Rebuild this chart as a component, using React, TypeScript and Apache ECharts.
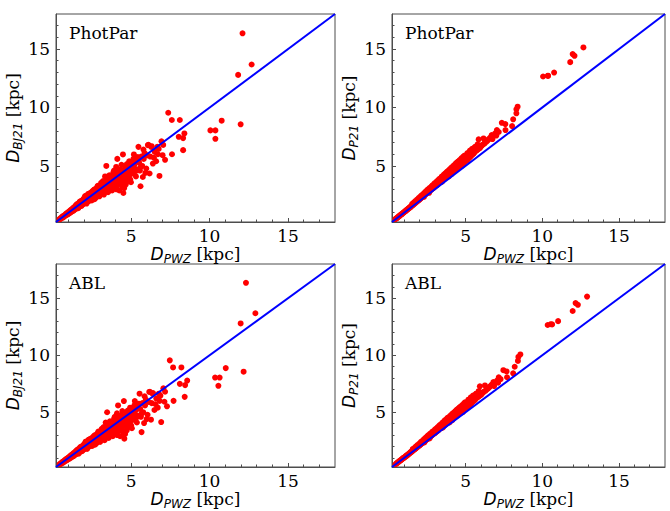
import React, { useEffect, useRef } from "react";
import * as echarts from "echarts";

// ---- data: one entry per star, same index in every array ----
const pwzPhotPar = [
  0.42, 0.47, 0.51, 0.55, 0.6, 0.64, 0.68, 0.72, 0.77, 0.8, 0.85, 0.89, 0.93, 0.97, 1.0,
  1.04, 1.08, 1.11, 1.15, 1.19, 1.23, 1.26, 1.3, 1.34, 1.38, 1.41, 1.45, 1.49, 1.53, 1.56, 1.6, 1.64, 1.67, 1.71, 1.75, 1.78, 1.82, 1.86, 1.9, 1.93, 1.97, 2.0,
  2.04, 2.07, 2.11, 2.14, 2.18, 2.21, 2.25, 2.28, 2.32, 2.35, 2.39, 2.42, 2.46, 2.49, 2.53, 2.56, 2.6, 2.63, 2.67, 2.7, 2.74, 2.77, 2.81, 2.84, 2.88, 2.91, 2.95, 2.98,
  3.02, 3.06, 3.1, 3.13, 3.17, 3.21, 3.24, 3.28, 3.32, 3.35, 3.39, 3.41, 3.43, 3.47, 3.5, 3.54, 3.58, 3.61, 3.65, 3.69, 3.72, 3.76, 3.8, 3.83, 3.87, 3.91, 3.94, 3.98,
  4.02, 4.04, 4.06, 4.09, 4.11, 4.13, 4.17, 4.2, 4.24, 4.28, 4.31, 4.35, 4.39, 4.43, 4.46, 4.47, 4.5, 4.54, 4.57, 4.61, 4.65, 4.68, 4.72, 4.76, 4.8, 4.83, 4.87, 4.91, 4.95, 4.98,
  2.16, 2.44, 2.72, 2.93, 3.15, 3.37, 3.56, 3.74, 3.93, 4.15, 4.33, 4.52, 4.7, 4.89, 5.08, 2.58, 3.05, 3.48, 3.97, 4.42,
  5.02, 5.06, 5.1, 5.14, 5.17, 5.21, 5.25, 5.3, 5.34, 5.4, 5.46, 5.5, 5.55, 5.59, 5.64, 5.7, 5.74, 5.8, 5.85, 5.9, 5.96, 6.02, 6.06, 6.1, 6.17, 6.22, 6.27, 6.3, 6.38, 6.45, 6.5, 6.59, 6.66, 6.7, 6.8,
  6.93, 7.0, 7.04, 7.16, 7.36, 7.59, 7.6, 8.03, 8.1, 8.31, 8.31, 8.39, 6.75,
  10.05, 10.37, 10.37, 10.77, 11.82, 11.98, 12.1, 12.68,
  1.52, 1.62, 1.72, 1.83, 1.95, 2.06, 2.15, 2.26, 2.37, 2.48, 2.55, 2.66, 2.79, 2.86, 2.97, 3.08, 3.16, 3.26, 3.33, 3.44, 3.52, 3.6, 3.7, 3.78, 3.86,
  3.96, 4.05, 4.12, 4.22, 4.3, 4.38, 4.48, 4.55, 4.63, 4.74, 4.85, 4.93, 5.12, 5.28, 5.42, 5.6, 5.78, 3.2, 2.62, 3.9, 4.4, 4.08, 3.46, 4.75, 2.28,
];

const pwzAbl = [
  0.43, 0.48, 0.52, 0.56, 0.61, 0.65, 0.69, 0.73, 0.78, 0.81, 0.86, 0.9, 0.94, 0.98, 1.02,
  1.06, 1.1, 1.13, 1.17, 1.21, 1.25, 1.28, 1.32, 1.36, 1.4, 1.43, 1.47, 1.51, 1.55, 1.58, 1.63, 1.67, 1.7, 1.74, 1.78, 1.81, 1.85, 1.89, 1.93, 1.96, 2.0, 2.03,
  2.07, 2.1, 2.14, 2.17, 2.21, 2.24, 2.28, 2.31, 2.35, 2.38, 2.42, 2.46, 2.5, 2.53, 2.57, 2.6, 2.64, 2.67, 2.71, 2.74, 2.78, 2.81, 2.85, 2.88, 2.92, 2.95, 2.99, 3.02,
  3.06, 3.1, 3.14, 3.17, 3.21, 3.25, 3.28, 3.32, 3.36, 3.39, 3.43, 3.46, 3.48, 3.52, 3.55, 3.59, 3.63, 3.66, 3.7, 3.74, 3.77, 3.81, 3.85, 3.88, 3.92, 3.96, 3.99, 4.03,
  4.07, 4.09, 4.11, 4.14, 4.16, 4.18, 4.22, 4.25, 4.29, 4.33, 4.37, 4.41, 4.45, 4.49, 4.52, 4.53, 4.56, 4.6, 4.63, 4.67, 4.71, 4.74, 4.78, 4.82, 4.86, 4.89, 4.93, 4.97, 5.01, 5.04,
  2.19, 2.47, 2.75, 2.97, 3.19, 3.41, 3.6, 3.78, 3.98, 4.2, 4.38, 4.57, 4.75, 4.94, 5.13, 2.61, 3.09, 3.52, 4.02, 4.47,
  5.07, 5.12, 5.16, 5.2, 5.23, 5.27, 5.31, 5.36, 5.4, 5.46, 5.53, 5.57, 5.62, 5.66, 5.71, 5.77, 5.82, 5.88, 5.93, 5.98, 6.04, 6.1, 6.15, 6.19, 6.26, 6.31, 6.36, 6.39, 6.48, 6.55, 6.6, 6.69, 6.76, 6.81, 6.91,
  7.05, 7.12, 7.16, 7.28, 7.46, 7.67, 7.7, 8.1, 8.2, 8.44, 8.41, 8.57, 6.86,
  10.35, 10.64, 10.56, 11.03, 11.98, 12.17, 12.32, 12.92,
  1.55, 1.65, 1.75, 1.86, 1.98, 2.09, 2.18, 2.29, 2.4, 2.51, 2.58, 2.69, 2.82, 2.9, 3.01, 3.12, 3.2, 3.3, 3.37, 3.48, 3.56, 3.64, 3.74, 3.82, 3.91,
  4.01, 4.1, 4.17, 4.27, 4.35, 4.43, 4.54, 4.61, 4.69, 4.8, 4.91, 4.99, 5.18, 5.34, 5.48, 5.67, 5.85, 3.24, 2.65, 3.95, 4.45, 4.13, 3.5, 4.81, 2.31,
];

const dBJ21 = [
  0.45, 0.44, 0.55, 0.52, 0.66, 0.58, 0.72, 0.66, 0.82, 0.74, 0.92, 0.8, 0.98, 0.88, 1.06,
  0.94, 1.16, 1.0, 1.25, 1.08, 1.3, 1.12, 1.42, 1.2, 1.48, 1.28, 1.6, 1.35, 1.62, 1.4, 1.78, 1.48, 1.82, 1.55, 1.92, 1.6, 2.02, 1.66, 2.08, 1.72, 2.2, 1.8,
  2.3, 1.85, 2.05, 2.45, 1.9, 2.2, 2.58, 1.98, 2.3, 2.05, 2.7, 2.45, 2.12, 2.55, 2.85, 2.22, 2.65, 2.35, 3.0, 2.5, 2.28, 2.8, 3.15, 2.45, 2.9, 2.6, 3.3, 2.7,
  3.05, 2.6, 3.4, 2.85, 3.2, 2.75, 3.6, 3.0, 3.35, 2.9, 3.75, 5.0, 3.15, 3.5, 3.0, 3.85, 3.3, 3.6, 3.1, 4.0, 3.45, 3.75, 3.2, 4.15, 3.55, 3.9, 3.35, 4.3,
  3.65, 4.91, 3.0, 4.05, 5.6, 3.45, 4.4, 3.8, 2.9, 4.2, 4.7, 3.55, 4.0, 3.2, 4.55, 5.98, 2.68, 3.8, 4.3, 4.85, 3.4, 4.1, 5.15, 3.7, 4.5, 3.95, 5.4, 4.25, 4.75, 3.6,
  2.1, 2.38, 2.62, 2.85, 3.05, 3.3, 3.45, 3.62, 3.8, 4.05, 4.2, 4.4, 4.55, 4.7, 4.95, 2.45, 2.88, 3.38, 3.85, 4.3,
  5.1, 4.4, 4.35, 5.6, 5.98, 4.8, 5.2, 4.1, 5.45, 4.7, 6.63, 5.3, 4.6, 3.26, 5.8, 5.0, 4.05, 5.6, 6.1, 4.4, 4.78, 5.9, 6.78, 6.8, 4.35, 5.8, 6.63, 6.69, 5.2, 5.7, 6.2, 5.4, 6.63, 6.0, 4.14,
  7.1, 5.92, 6.8, 5.52, 9.55, 8.93, 6.0, 7.49, 8.93, 7.38, 6.35, 7.78, 6.45,
  8.04, 8.04, 7.32, 8.87, 12.79, 8.56, 16.35, 13.68,
  1.7, 1.38, 1.95, 1.58, 1.95, 2.42, 1.78, 2.3, 2.28, 2.05, 2.62, 2.15, 2.62, 3.3, 2.4, 3.55, 3.0, 2.55, 4.1, 3.25, 2.75, 4.2, 3.55, 2.9, 4.45,
  3.65, 3.25, 4.7, 4.05, 3.4, 5.1, 4.2, 3.1, 4.6, 4.35, 5.0, 3.85, 5.4, 4.55, 5.75, 4.9, 6.4, 3.7, 2.95, 4.6, 4.45, 4.25, 3.45, 4.8, 2.6,
];

const dP21 = [
  0.44, 0.5, 0.53, 0.58, 0.62, 0.68, 0.71, 0.77, 0.8, 0.85, 0.88, 0.95, 0.97, 1.03, 1.05,
  1.1, 1.12, 1.19, 1.2, 1.27, 1.29, 1.35, 1.36, 1.44, 1.45, 1.52, 1.52, 1.6, 1.62, 1.68, 1.69, 1.76, 1.78, 1.84, 1.86, 1.92, 1.94, 2.01, 2.02, 2.09, 2.1, 2.16,
  2.18, 2.25, 2.26, 2.3, 2.36, 2.38, 2.42, 2.48, 2.5, 2.55, 2.58, 2.62, 2.66, 2.7, 2.72, 2.78, 2.8, 2.86, 2.88, 2.94, 2.98, 3.0, 3.04, 3.1, 3.12, 3.18, 3.2, 3.26,
  3.27, 3.34, 3.35, 3.4, 3.44, 3.5, 3.52, 3.58, 3.6, 3.66, 3.68, 3.72, 3.74, 3.76, 3.82, 3.84, 3.9, 3.92, 3.98, 4.0, 4.06, 4.08, 4.14, 4.16, 4.22, 4.24, 4.3, 4.32,
  4.38, 4.4, 4.42, 4.44, 4.48, 4.5, 4.52, 4.58, 4.62, 4.64, 4.7, 4.72, 4.78, 4.82, 4.84, 4.88, 4.9, 4.94, 4.98, 5.0, 5.06, 5.08, 5.14, 5.16, 5.22, 5.26, 5.28, 5.34, 5.38, 5.42,
  2.34, 2.62, 2.92, 3.14, 3.38, 3.62, 3.82, 4.02, 4.22, 4.46, 4.66, 4.86, 5.06, 5.24, 5.46, 2.8, 3.28, 3.72, 4.28, 4.76,
  5.46, 5.5, 5.56, 5.58, 5.64, 5.68, 5.72, 5.8, 5.84, 5.92, 6.0, 6.04, 6.12, 6.18, 6.63, 6.3, 6.36, 6.42, 7.27, 6.5, 6.58, 6.7, 6.76, 6.8, 7.35, 6.9, 7.0, 7.05, 7.1, 7.2, 7.28, 7.4, 7.45, 7.64, 7.55,
  7.78, 7.6, 8.07, 7.9, 8.69, 8.58, 8.07, 8.41, 8.99, 9.85, 9.5, 10.07, 7.3,
  12.65, 12.7, 12.72, 12.99, 13.88, 14.57, 14.42, 15.14,
  1.76, 1.85, 1.98, 2.12, 2.26, 2.4, 2.5, 2.64, 2.78, 2.9, 3.0, 3.12, 3.28, 3.35, 3.5, 3.62, 3.72, 3.86, 3.92, 4.08, 4.16, 4.28, 4.38, 4.5, 4.58,
  4.7, 4.82, 4.9, 5.02, 5.12, 5.24, 5.34, 5.42, 5.52, 5.66, 5.8, 5.88, 6.1, 6.3, 6.46, 6.62, 6.85, 3.48, 2.7, 4.1, 4.7, 4.3, 3.65, 5.0, 2.35,
];

// ---- axes ----
const axisRange = [0.2, 18];
const majorTicks = [5, 10, 15];
const minorTicks = [1, 2, 3, 4, 6, 7, 8, 9, 11, 12, 13, 14, 16, 17];
const panelTitles = ["PhotPar", "PhotPar", "ABL", "ABL"];
const ySubscripts = ["BJ21", "P21", "BJ21", "P21"];
const xSubscript = "PWZ";

const FRAME = "#4d4d4d";

const rich = {
  d: { fontFamily: "DejaVu Sans", fontStyle: "italic", fontSize: 17, color: "#000", lineHeight: 22 },
  s: { fontFamily: "DejaVu Sans", fontStyle: "italic", fontSize: 12, color: "#000", lineHeight: 14, verticalAlign: "bottom" },
  n: { fontFamily: "DejaVu Serif", fontSize: 17, color: "#000", lineHeight: 22 },
};

const grids = [
  { left: 56, top: 14, width: 279, height: 208 },
  { left: 392, top: 14, width: 273, height: 208 },
  { left: 56, top: 264, width: 279, height: 206 },
  { left: 392, top: 264, width: 273, height: 206 },
];

function mainAxis(i: number, dim: "x" | "y", name: string) {
  return {
    type: "value",
    gridIndex: i,
    min: axisRange[0],
    max: axisRange[1],
    position: dim === "x" ? "bottom" : "left",
    axisLine: { show: true, onZero: false, lineStyle: { color: FRAME, width: 1 } },
    axisTick: { show: true, inside: true, length: 4, customValues: majorTicks, lineStyle: { color: FRAME, width: 1 } },
    axisLabel: {
      show: true,
      customValues: majorTicks,
      fontFamily: "DejaVu Serif",
      fontSize: 17,
      color: "#000",
      margin: dim === "x" ? 5 : 6,
    },
    splitLine: { show: false },
    name,
    nameLocation: "middle",
    nameGap: dim === "x" ? 21 : 23,
    nameTextStyle: { rich },
  };
}

function minorAxis(i: number, dim: "x" | "y") {
  return {
    type: "value",
    gridIndex: i,
    min: axisRange[0],
    max: axisRange[1],
    position: dim === "x" ? "bottom" : "left",
    axisLine: { show: false, onZero: false },
    axisTick: { show: true, inside: true, length: 2.5, customValues: minorTicks, lineStyle: { color: FRAME, width: 1 } },
    axisLabel: { show: false },
    splitLine: { show: false },
  };
}

export default function App() {
  const ref = useRef<HTMLDivElement>(null);
  useEffect(() => {
    if (!ref.current) return;
    const chart = echarts.init(ref.current, undefined, { renderer: "svg" });
    const xAxes: any[] = [];
    const yAxes: any[] = [];
    const series: any[] = [];
    const titles: any[] = [];
    const xs = [pwzPhotPar, pwzPhotPar, pwzAbl, pwzAbl];
    const ys = [dBJ21, dP21, dBJ21, dP21];
    grids.forEach((g, i) => {
      xAxes.push(mainAxis(i, "x", `{d|D}{s|${xSubscript}}{n| [kpc]}`));
      xAxes.push(minorAxis(i, "x"));
      yAxes.push(mainAxis(i, "y", `{d|D}{s|${ySubscripts[i]}}{n| [kpc]}`));
      yAxes.push(minorAxis(i, "y"));
      series.push({
        type: "scatter",
        xAxisIndex: 2 * i,
        yAxisIndex: 2 * i,
        symbol: "circle",
        symbolSize: 6,
        itemStyle: { color: "#ff0000", opacity: 1 },
        data: xs[i].map((x, k) => [x, ys[i][k]]),
        z: 2,
      });
      series.push({
        type: "line",
        xAxisIndex: 2 * i,
        yAxisIndex: 2 * i,
        symbol: "none",
        lineStyle: { color: "#0000ff", width: 2 },
        data: [
          [axisRange[0], axisRange[0]],
          [axisRange[1], axisRange[1]],
        ],
        z: 3,
      });
      titles.push({
        text: panelTitles[i],
        left: g.left + 13,
        top: g.top + 10,
        padding: 0,
        textStyle: { fontFamily: "DejaVu Serif", fontSize: 17, fontWeight: "normal", color: "#000" },
      });
    });
    chart.setOption({
      animation: false,
      backgroundColor: "#fff",
      title: titles,
      grid: grids.map((g) => ({ ...g, show: true, borderColor: FRAME, borderWidth: 1, backgroundColor: "transparent" })),
      xAxis: xAxes,
      yAxis: yAxes,
      series,
    });
    return () => chart.dispose();
  }, []);
  return <div ref={ref} style={{ position: "absolute", left: 0, top: 0, width: 670, height: 511 }} />;
}
